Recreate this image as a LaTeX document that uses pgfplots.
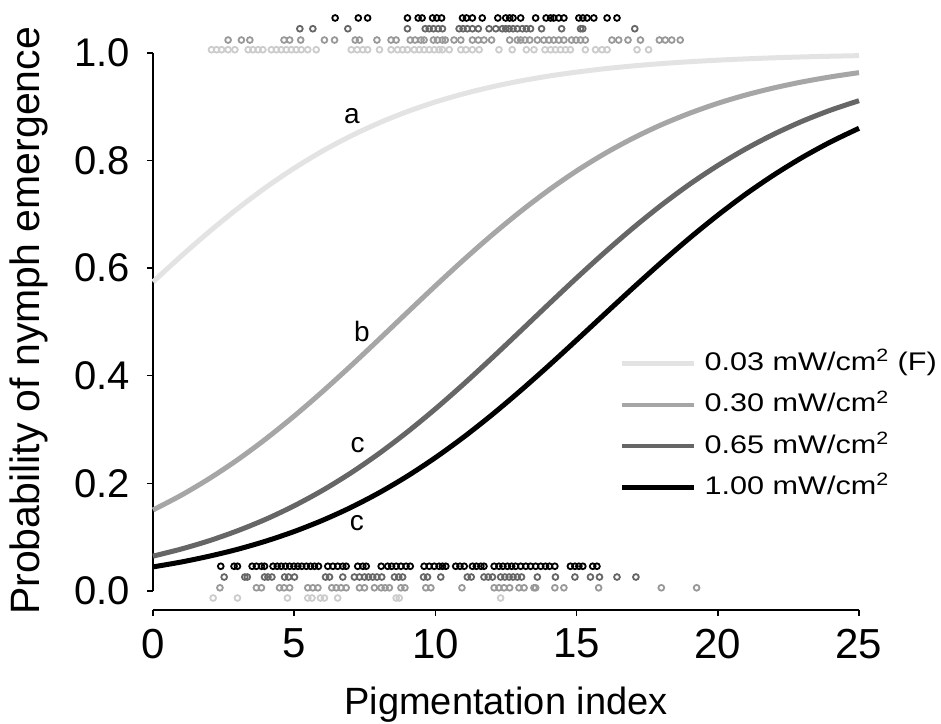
\documentclass[border=0pt]{standalone}
\usepackage{pgfplots}
\pgfplotsset{compat=1.18}
\usepackage{fontspec}
\setmainfont{Liberation Sans}
\newfontfamily\legfont[FakeStretch=1.2]{Liberation Sans}
\definecolor{cA}{gray}{0.89}
\definecolor{cB}{gray}{0.65}
\definecolor{cC}{gray}{0.40}
\definecolor{rA}{gray}{0.80}
\definecolor{rB}{gray}{0.60}
\definecolor{rC}{gray}{0.40}
\begin{document}
\begin{tikzpicture}
\begin{axis}[
  scale only axis, width=353pt, height=298.7pt,
  xmin=0, xmax=25, ymin=-0.0353, ymax=1.075,
  axis x line=bottom, axis y line=left,
  axis line style={-, line width=0.7pt},
  y axis line style={draw=none},
  xtick={0,5,10,15,20,25}, ytick={0,0.2,0.4,0.6,0.8,1.0},
  tick align=outside, major tick length=3pt,
  tick style={black, line width=0.7pt},
  /pgf/number format/assume math mode=true,
  xticklabel style={font=\fontsize{21}{25}\selectfont, yshift=-3pt},
  yticklabel style={font=\fontsize{20}{24}\selectfont, xshift=-5pt, /pgf/number format/.cd, fixed, fixed zerofill, precision=1},
  clip=false,
  xlabel={Pigmentation index},
  xlabel style={at={(axis description cs:0.5,-0.158)}, anchor=center, font=\fontsize{19}{23}\selectfont},
  ylabel={Probability of nymph emergence},
  ylabel style={at={(axis description cs:-0.176,0.484)}, anchor=center, font=\fontsize{20.5}{24}\selectfont},
  legend style={draw=none, fill=none, at={(axis cs:16.53,0.446)}, anchor=north west,
    font=\legfont\fontsize{12.75}{15}\selectfont, row sep=8.65pt, column sep=4pt, inner sep=0pt,
    nodes={inner sep=0pt, text height=9.5pt, text depth=2.5pt}},
  legend cell align=left,
  legend image code/.code={\draw[#1, line width=2.2pt] (0pt,0pt) -- (36pt,0pt);},
]
% y axis line from 0 to 1 only
\draw[line width=0.7pt] (axis cs:0,0) -- (axis cs:0,1);

% rug points, top (emerged)
\addplot[only marks, mark=o, mark size=1.45pt, draw=rA, line width=0.9pt, forget plot] coordinates {
(2.07,1.006) (2.25,1.006) (2.43,1.006) (2.66,1.006) (2.90,1.006) (3.37,1.006) (3.54,1.006) (3.72,1.006) (3.89,1.006) (4.19,1.006) (4.37,1.006) (4.54,1.006) (4.72,1.006) (4.90,1.006) (5.07,1.006) (5.25,1.006) (5.48,1.006) (5.78,1.006) (7.02,1.006) (7.23,1.006) (7.43,1.006) (7.60,1.006) (8.02,1.006) (8.43,1.006) (8.66,1.006) (8.84,1.006) (9.01,1.006) (9.25,1.006) (9.43,1.006) (9.60,1.006) (9.78,1.006) (9.96,1.006) (10.13,1.006) (10.25,1.006) (10.49,1.006) (10.90,1.006) (11.08,1.006) (11.31,1.006) (11.55,1.006) (12.25,1.006) (12.72,1.006) (13.22,1.006) (13.49,1.006) (13.88,1.006) (14.08,1.006) (14.25,1.006) (14.43,1.006) (14.61,1.006) (14.78,1.006) (15.31,1.006) (15.67,1.006) (15.90,1.006) (16.08,1.006) (17.14,1.006) (17.55,1.006)
};
\addplot[only marks, mark=o, mark size=1.45pt, draw=rB, line width=0.9pt, forget plot] coordinates {
(2.66,1.024) (3.13,1.024) (3.43,1.024) (4.64,1.024) (4.84,1.024) (5.23,1.024) (6.07,1.024) (6.43,1.024) (7.16,1.024) (7.31,1.024) (7.93,1.024) (8.43,1.024) (8.61,1.024) (9.11,1.024) (9.28,1.024) (9.49,1.024) (9.60,1.024) (9.93,1.024) (10.07,1.024) (10.25,1.024) (10.35,1.024) (10.66,1.024) (10.90,1.024) (11.31,1.024) (11.52,1.024) (11.72,1.024) (11.99,1.024) (12.63,1.024) (12.90,1.024) (13.02,1.024) (13.17,1.024) (13.34,1.024) (13.61,1.024) (13.84,1.024) (14.02,1.024) (14.19,1.024) (14.37,1.024) (14.55,1.024) (14.82,1.024) (14.98,1.024) (15.14,1.024) (15.31,1.024) (16.25,1.024) (16.49,1.024) (16.82,1.024) (17.26,1.024) (17.93,1.024) (18.14,1.024) (18.37,1.024) (18.67,1.024)
};
\addplot[only marks, mark=o, mark size=1.45pt, draw=rC, line width=0.9pt, forget plot] coordinates {
(5.20,1.045) (5.66,1.045) (6.90,1.045) (9.01,1.045) (9.64,1.045) (9.78,1.045) (9.93,1.045) (10.10,1.045) (10.25,1.045) (10.84,1.045) (10.98,1.045) (11.13,1.045) (11.31,1.045) (11.52,1.045) (11.90,1.045) (12.14,1.045) (12.37,1.045) (12.49,1.045) (12.61,1.045) (12.75,1.045) (12.90,1.045) (13.08,1.045) (13.22,1.045) (13.37,1.045) (13.76,1.045) (14.47,1.045) (15.14,1.045) (15.22,1.045) (17.06,1.045)
};
\addplot[only marks, mark=o, mark size=1.45pt, draw=black, line width=0.9pt, forget plot] coordinates {
(6.45,1.065) (7.27,1.065) (7.60,1.065) (9.01,1.065) (9.39,1.065) (9.53,1.065) (9.90,1.065) (10.05,1.065) (10.22,1.065) (10.96,1.065) (11.10,1.065) (11.31,1.065) (11.66,1.065) (12.21,1.065) (12.49,1.065) (12.63,1.065) (12.75,1.065) (13.02,1.065) (13.55,1.065) (13.92,1.065) (14.08,1.065) (14.19,1.065) (14.37,1.065) (14.55,1.065) (15.08,1.065) (15.22,1.065) (15.37,1.065) (15.61,1.065) (16.08,1.065) (16.43,1.065)
};
% rug points, bottom (not emerged)
\addplot[only marks, mark=o, mark size=1.45pt, draw=rA, line width=0.9pt, forget plot] coordinates {
(2.13,-0.013) (2.99,-0.013) (4.76,-0.013) (5.48,-0.013) (5.63,-0.013) (5.93,-0.013) (6.07,-0.013) (6.54,-0.013) (8.61,-0.013) (8.72,-0.013) (12.31,-0.013)
};
\addplot[only marks, mark=o, mark size=1.45pt, draw=rB, line width=0.9pt, forget plot] coordinates {
(2.37,0.006) (3.66,0.006) (3.84,0.006) (4.48,0.006) (4.64,0.006) (4.84,0.006) (5.48,0.006) (5.66,0.006) (5.84,0.006) (6.33,0.006) (6.49,0.006) (6.66,0.006) (6.84,0.006) (7.31,0.006) (7.49,0.006) (7.84,0.006) (8.08,0.006) (8.22,0.006) (8.37,0.006) (8.78,0.006) (8.92,0.006) (9.66,0.006) (9.84,0.006) (10.94,0.006) (12.08,0.006) (12.25,0.006) (12.43,0.006) (12.63,0.006) (12.96,0.006) (13.14,0.006) (13.49,0.006) (13.55,0.006) (14.23,0.006) (14.55,0.006) (15.78,0.006) (18.00,0.006) (19.25,0.006)
};
\addplot[only marks, mark=o, mark size=1.45pt, draw=rC, line width=0.9pt, forget plot] coordinates {
(2.52,0.026) (3.25,0.026) (3.34,0.026) (3.95,0.026) (4.07,0.026) (4.21,0.026) (4.66,0.026) (4.80,0.026) (5.01,0.026) (6.11,0.026) (6.25,0.026) (6.72,0.026) (7.13,0.026) (7.31,0.026) (7.49,0.026) (7.63,0.026) (7.78,0.026) (7.93,0.026) (8.10,0.026) (8.55,0.026) (8.70,0.026) (8.84,0.026) (9.58,0.026) (9.72,0.026) (10.19,0.026) (11.13,0.026) (11.27,0.026) (11.72,0.026) (11.87,0.026) (12.02,0.026) (12.31,0.026) (12.46,0.026) (12.61,0.026) (12.75,0.026) (12.90,0.026) (13.05,0.026) (13.61,0.026) (14.25,0.026) (14.94,0.026) (15.49,0.026) (15.81,0.026) (16.43,0.026) (17.10,0.026)
};
\addplot[only marks, mark=o, mark size=1.45pt, draw=black, line width=0.9pt, forget plot] coordinates {
(2.40,0.046) (2.87,0.046) (2.99,0.046) (3.51,0.046) (3.66,0.046) (3.84,0.046) (3.95,0.046) (4.25,0.046) (4.40,0.046) (4.54,0.046) (4.69,0.046) (4.84,0.046) (4.99,0.046) (5.13,0.046) (5.27,0.046) (5.43,0.046) (5.58,0.046) (5.72,0.046) (5.86,0.046) (6.19,0.046) (6.37,0.046) (6.54,0.046) (6.72,0.046) (6.84,0.046) (7.25,0.046) (7.43,0.046) (7.55,0.046) (8.08,0.046) (8.31,0.046) (8.45,0.046) (8.61,0.046) (8.78,0.046) (8.96,0.046) (9.11,0.046) (9.60,0.046) (9.78,0.046) (9.96,0.046) (10.13,0.046) (10.25,0.046) (10.37,0.046) (10.72,0.046) (10.87,0.046) (11.02,0.046) (11.31,0.046) (11.45,0.046) (11.61,0.046) (11.72,0.046) (12.08,0.046) (12.25,0.046) (12.39,0.046) (12.55,0.046) (12.70,0.046) (12.84,0.046) (13.02,0.046) (13.20,0.046) (13.37,0.046) (13.55,0.046) (13.73,0.046) (13.90,0.046) (14.04,0.046) (14.23,0.046) (14.78,0.046) (14.94,0.046) (15.08,0.046) (15.22,0.046) (15.57,0.046) (15.72,0.046)
};

% fitted curves
\addplot[cA, line width=2.5pt, smooth] coordinates {
(0,0.5744) (1,0.6225) (2,0.6682) (3,0.7109) (4,0.7503) (5,0.7858) (6,0.8176) (7,0.8455) (8,0.8699) (9,0.8909) (10,0.9089) (11,0.9241) (12,0.9370) (13,0.9478) (14,0.9569) (15,0.9644) (16,0.9707) (17,0.9759) (18,0.9802) (19,0.9837) (20,0.9866) (21,0.9890) (22,0.9910) (23,0.9926) (24,0.9939) (25,0.9950)
};
\addlegendentry{0.03 mW/cm\textsuperscript{2} (F)}
\addplot[cB, line width=2.5pt, smooth] coordinates {
(0,0.1506) (1,0.1780) (2,0.2092) (3,0.2441) (4,0.2829) (5,0.3252) (6,0.3705) (7,0.4182) (8,0.4675) (9,0.5175) (10,0.5671) (11,0.6154) (12,0.6615) (13,0.7047) (14,0.7446) (15,0.7808) (16,0.8131) (17,0.8416) (18,0.8665) (19,0.8879) (20,0.9064) (21,0.9220) (22,0.9352) (23,0.9463) (24,0.9556) (25,0.9634)
};
\addlegendentry{0.30 mW/cm\textsuperscript{2}}
\addplot[cC, line width=2.5pt, smooth] coordinates {
(0,0.0648) (1,0.0780) (2,0.0936) (3,0.1121) (4,0.1335) (5,0.1584) (6,0.1869) (7,0.2192) (8,0.2554) (9,0.2953) (10,0.3385) (11,0.3846) (12,0.4329) (13,0.4825) (14,0.5325) (15,0.5818) (16,0.6295) (17,0.6748) (18,0.7171) (19,0.7559) (20,0.7908) (21,0.8220) (22,0.8494) (23,0.8733) (24,0.8938) (25,0.9113)
};
\addlegendentry{0.65 mW/cm\textsuperscript{2}}
\addplot[black, line width=2.5pt, smooth] coordinates {
(0,0.0448) (1,0.0539) (2,0.0648) (3,0.0776) (4,0.0928) (5,0.1106) (6,0.1313) (7,0.1551) (8,0.1824) (9,0.2133) (10,0.2479) (11,0.2860) (12,0.3274) (13,0.3717) (14,0.4182) (15,0.4663) (16,0.5150) (17,0.5634) (18,0.6106) (19,0.6559) (20,0.6985) (21,0.7380) (22,0.7738) (23,0.8061) (24,0.8348) (25,0.8600)
};
\addlegendentry{1.00 mW/cm\textsuperscript{2}}

\node[font=\fontsize{14}{17}\selectfont] at (axis cs:7.04,0.883) {a};
\node[font=\fontsize{14}{17}\selectfont] at (axis cs:7.40,0.483) {b};
\node[font=\fontsize{14}{17}\selectfont] at (axis cs:7.25,0.271) {c};
\node[font=\fontsize{14}{17}\selectfont] at (axis cs:7.22,0.127) {c};
\end{axis}
\pgfresetboundingbox
\path (-76.5pt,-56.5pt) rectangle (394pt,305pt);
\end{tikzpicture}
\end{document}
